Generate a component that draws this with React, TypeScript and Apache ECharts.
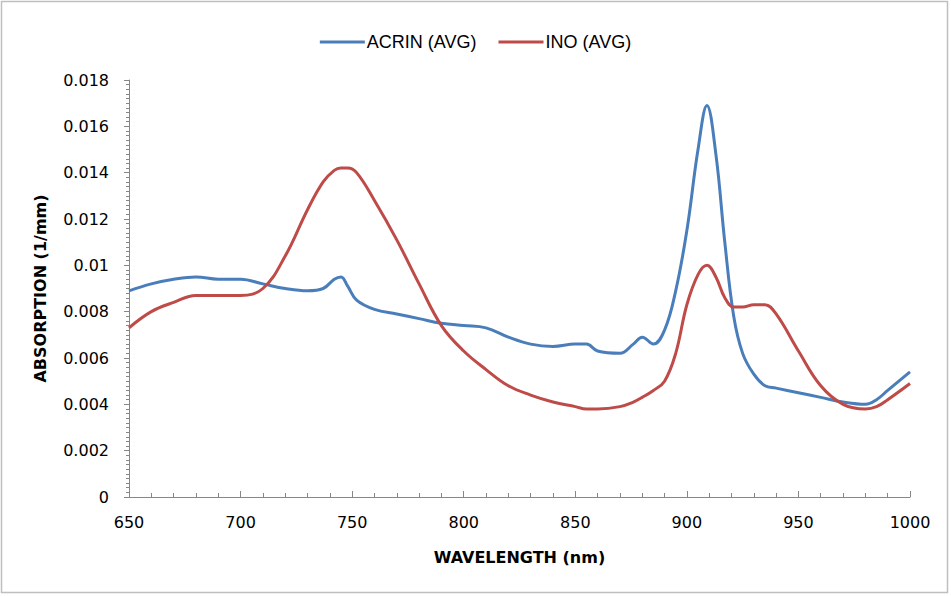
import React, { useEffect, useRef } from "react";
import * as echarts from "echarts";

const wavelengths = [650, 660, 670, 680, 690, 700, 710, 720, 730, 737, 742, 745, 748, 752, 760, 770, 780, 790, 800, 810, 820, 830, 840, 850, 855, 860, 870, 876, 880, 885, 890, 895, 900, 905, 909, 913, 917, 921, 925, 930, 935, 940, 950, 960, 970, 980, 985, 990, 1000];

const acrinAvg = [0.0089, 0.0092, 0.0094, 0.0095, 0.0094, 0.0094, 0.0092, 0.0090, 0.0089, 0.0090, 0.0094, 0.0095, 0.0091, 0.0085, 0.0081, 0.0079, 0.0077, 0.0075, 0.0074, 0.0073, 0.0069, 0.0066, 0.0065, 0.0066, 0.0066, 0.0063, 0.0062, 0.0066, 0.0069, 0.0066, 0.0072, 0.0089, 0.0115, 0.0150, 0.0169, 0.0148, 0.0110, 0.0078, 0.0062, 0.0053, 0.0048, 0.0047, 0.0045, 0.0043, 0.0041, 0.0040, 0.0042, 0.0046, 0.0054];

const inoAvg = [0.0073, 0.0080, 0.0084, 0.0087, 0.0087, 0.0087, 0.0090, 0.0104, 0.0124, 0.0136, 0.0141, 0.0142, 0.0142, 0.0140, 0.0128, 0.0111, 0.0092, 0.0074, 0.0063, 0.0055, 0.0048, 0.0044, 0.0041, 0.0039, 0.0038, 0.0038, 0.0039, 0.0041, 0.0043, 0.0046, 0.0050, 0.0062, 0.0083, 0.0096, 0.0100, 0.0095, 0.0086, 0.0082, 0.0082, 0.0083, 0.0083, 0.0079, 0.0063, 0.0048, 0.0040, 0.0038, 0.0039, 0.0042, 0.0049];

const seriesNames = ["ACRIN (AVG)", "INO (AVG)"];
const xTitle = "WAVELENGTH (nm)";
const yTitle = "ABSORPTION (1/mm)";

export default function App() {
  const ref = useRef<HTMLDivElement>(null);
  useEffect(() => {
    if (!ref.current) return;
    const chart = echarts.init(ref.current, null, { renderer: "svg" });
    const axisColor = "#868686";
    const tickFont = { fontFamily: "DejaVu Sans", fontSize: 16, color: "#000" };
    const titleFont = { fontFamily: "DejaVu Sans", fontSize: 16, fontWeight: "bold", color: "#000" };
    chart.setOption({
      animation: false,
      backgroundColor: "#fff",
      graphic: [
        {
          type: "rect",
          shape: { x: 1.5, y: 1.5, width: 946, height: 591 },
          style: { fill: "none", stroke: "#bfbfbf", lineWidth: 1.5 },
          silent: true,
        },
      ],
      legend: {
        top: 28,
        left: "center",
        itemWidth: 45,
        itemHeight: 3,
        itemGap: 22,
        icon: "rect",
        data: seriesNames,
        textStyle: {
          fontFamily: "Liberation Sans",
          fontSize: 18,
          color: "#000",
          padding: [0, 0, 0, -3],
        },
      },
      grid: { left: 129, right: 41, top: 80, bottom: 99, containLabel: false },
      xAxis: {
        type: "value",
        min: 650,
        max: 1000,
        interval: 50,
        name: xTitle,
        nameLocation: "middle",
        nameGap: 52,
        nameTextStyle: titleFont,
        axisLine: { lineStyle: { color: axisColor, width: 1 } },
        axisTick: { show: true, inside: true, length: 6, lineStyle: { color: axisColor } },
        minorTick: { show: true, splitNumber: 5, length: 4, lineStyle: { color: axisColor } },
        axisLabel: { ...tickFont, margin: 17, formatter: (v: number) => String(v) },
        splitLine: { show: false },
      },
      yAxis: {
        type: "value",
        min: 0,
        max: 0.018,
        interval: 0.002,
        name: yTitle,
        nameLocation: "middle",
        nameGap: 81,
        nameRotate: 90,
        nameTextStyle: titleFont,
        axisLine: { show: true, lineStyle: { color: axisColor, width: 1 } },
        axisTick: { show: true, inside: false, length: 5, lineStyle: { color: axisColor } },
        minorTick: { show: true, splitNumber: 10, length: 3, lineStyle: { color: axisColor } },
        axisLabel: { ...tickFont, margin: 20 },
        splitLine: { show: false },
      },
      series: [
        {
          name: seriesNames[0],
          type: "line",
          data: wavelengths.map((w, i) => [w, acrinAvg[i]]),
          smooth: 0.4,
          showSymbol: false,
          lineStyle: { color: "#4a7ebb", width: 3 },
          itemStyle: { color: "#4a7ebb" },
        },
        {
          name: seriesNames[1],
          type: "line",
          data: wavelengths.map((w, i) => [w, inoAvg[i]]),
          smooth: 0.4,
          showSymbol: false,
          lineStyle: { color: "#be4b48", width: 3 },
          itemStyle: { color: "#be4b48" },
        },
      ],
    });
    return () => chart.dispose();
  }, []);
  return <div ref={ref} style={{ width: 951, height: 596, position: "absolute", left: 0, top: 0 }} />;
}
